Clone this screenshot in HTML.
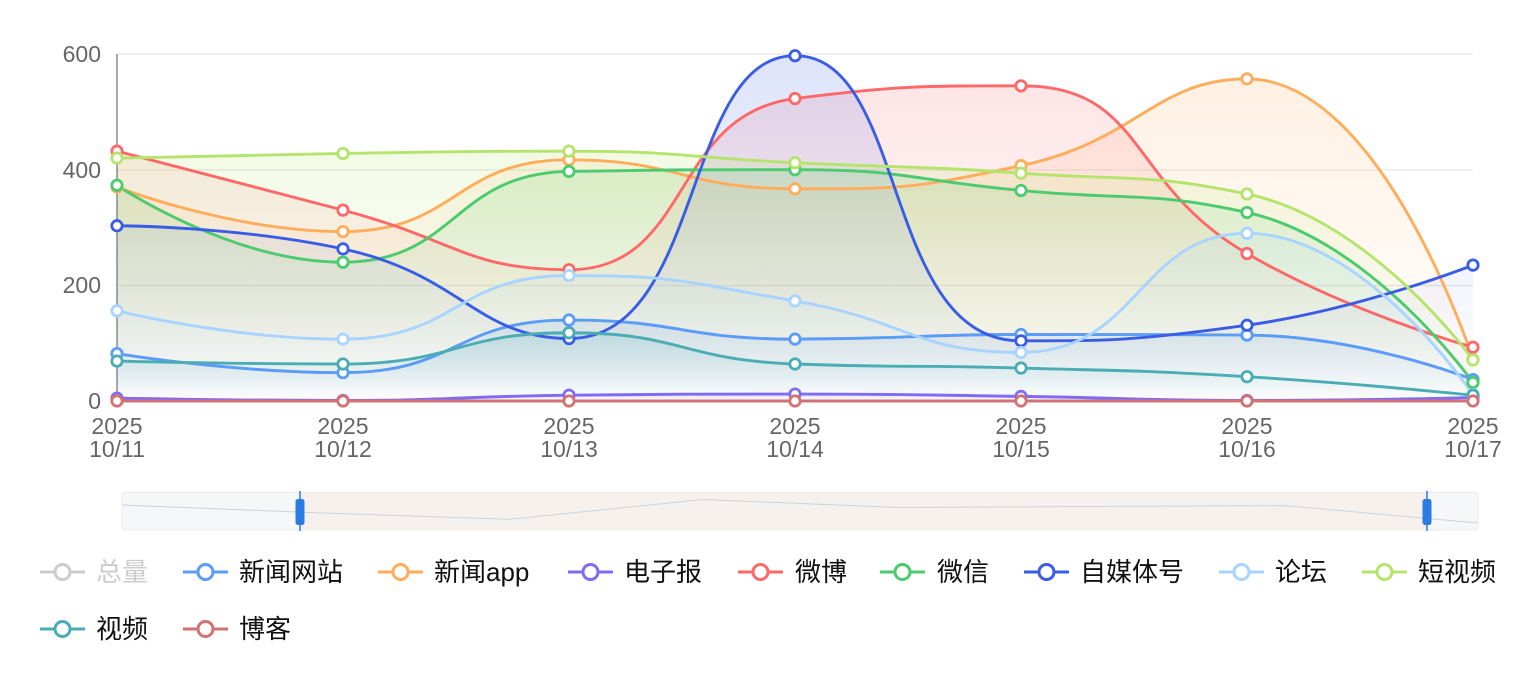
<!DOCTYPE html>
<html>
<head>
<meta charset="utf-8">
<style>
html,body{margin:0;padding:0;background:#fff;}
svg{display:block;}
.ax{font-family:"Liberation Sans","Noto Sans CJK SC",sans-serif;font-size:23px;fill:#666666;}
.lg{font-family:"Liberation Sans","Noto Sans CJK SC",sans-serif;font-size:26px;fill:#111;}
</style>
</head>
<body>
<svg id="c" width="1535" height="680" viewBox="0 0 1535 680" xmlns="http://www.w3.org/2000/svg">
  <defs id="defs"></defs>
  <!-- grid -->
  <g stroke="#e6e6e6" stroke-width="1.2">
    <line x1="117" y1="54" x2="1473" y2="54"/>
    <line x1="117" y1="170" x2="1473" y2="170"/>
    <line x1="117" y1="285.5" x2="1473" y2="285.5"/>
  </g>
  <g id="areas"></g>
  <line x1="117" y1="54" x2="117" y2="401" stroke="#6e7079" stroke-width="1.2"/>
  <g id="lines"></g>
  <g id="marks"></g>
  <!-- y labels -->
  <g class="ax" text-anchor="end">
    <text x="101" y="62">600</text>
    <text x="101" y="178">400</text>
    <text x="101" y="293">200</text>
    <text x="101" y="409">0</text>
  </g>
  <!-- x labels -->
  <g class="ax" text-anchor="middle">
    <text x="117" y="434">2025</text><text x="117" y="457">10/11</text>
    <text x="343" y="434">2025</text><text x="343" y="457">10/12</text>
    <text x="569" y="434">2025</text><text x="569" y="457">10/13</text>
    <text x="795" y="434">2025</text><text x="795" y="457">10/14</text>
    <text x="1021" y="434">2025</text><text x="1021" y="457">10/15</text>
    <text x="1247" y="434">2025</text><text x="1247" y="457">10/16</text>
    <text x="1473" y="434">2025</text><text x="1473" y="457">10/17</text>
  </g>
  <!-- data zoom -->
  <rect x="122" y="492.5" width="1356" height="37.5" rx="3" fill="#f6f7f9" stroke="#ece9e8" stroke-width="1"/>
  <rect x="300" y="492.5" width="1127" height="37.5" fill="#f5f0eb"/>
  <polyline points="122,505 316,512.8 510,519.3 703,499.5 898,507.5 1091,506.5 1284,505.5 1478,523" fill="none" stroke="#cfd2d8" stroke-width="1"/>
  <line x1="300" y1="491" x2="300" y2="531" stroke="#2b7be4" stroke-width="1.5"/>
  <rect x="295.5" y="499" width="9" height="26" rx="2.5" fill="#2b7be4"/>
  <line x1="1427" y1="491" x2="1427" y2="531" stroke="#2b7be4" stroke-width="1.5"/>
  <rect x="1422.5" y="499" width="9" height="26" rx="2.5" fill="#2b7be4"/>
  <!-- legend -->
  <g id="legicons"></g>
  <g class="lg">
    <text x="96" y="581" style="fill:#cccccc">总量</text>
    <text x="239" y="581">新闻网站</text>
    <text x="434" y="581">新闻app</text>
    <text x="624" y="581">电子报</text>
    <text x="795" y="581">微博</text>
    <text x="937" y="581">微信</text>
    <text x="1080" y="581">自媒体号</text>
    <text x="1275" y="581">论坛</text>
    <text x="1418" y="581">短视频</text>
    <text x="96" y="638">视频</text>
    <text x="239" y="638">博客</text>
  </g>
</svg>
<script>
(function(){
const NS="http://www.w3.org/2000/svg";
const X=[117,343,569,795,1021,1247,1473];
const Y0=401, K=347/600;
const yv=v=>Y0-v*K;
const series=[
 {c:"#5b9cf8",d:[82,49,140,107,115,114,37]},
 {c:"#ffad5b",d:[370,293,417,367,407,557,72]},
 {c:"#7e6cf7",d:[5,1,10,12,8,1,6]},
 {c:"#ff6868",d:[432,330,227,523,545,255,93]},
 {c:"#4ccb6e",d:[373,240,397,400,364,326,32]},
 {c:"#3a5de6",d:[303,263,108,597,104,131,235]},
 {c:"#a8d4ff",d:[156,107,217,173,84,290,11]},
 {c:"#b4e46b",d:[420,428,432,412,394,358,71]},
 {c:"#4aadb4",d:[69,64,118,64,57,42,10]},
 {c:"#d27272",d:[0,0,0,0,0,0,0]}
];
function smoothPath(pts,smooth){
  let d='',prevX,prevY,cpx0,cpy0,cpx1,cpy1,nextCpx0,nextCpy0;
  const n=pts.length;
  for(let i=0;i<n;i++){
    const x=pts[i][0],y=pts[i][1];
    if(i===0){d+='M'+x+','+y;cpx0=x;cpy0=y;}
    else{
      if(i===n-1){cpx1=x;cpy1=y;nextCpx0=x;nextCpy0=y;}
      else{
        const nx=pts[i+1][0],ny=pts[i+1][1];
        let vx=nx-prevX,vy=ny-prevY;
        const dx0=x-prevX,dx1=nx-x,dy0=y-prevY,dy1=ny-y;
        const lp=Math.sqrt(dx0*dx0+dy0*dy0),ln=Math.sqrt(dx1*dx1+dy1*dy1);
        const r=ln/(ln+lp);
        cpx1=x-vx*smooth*(1-r);cpy1=y-vy*smooth*(1-r);
        nextCpx0=x+vx*smooth*r;nextCpy0=y+vy*smooth*r;
        nextCpx0=Math.min(nextCpx0,Math.max(nx,x));nextCpy0=Math.min(nextCpy0,Math.max(ny,y));
        nextCpx0=Math.max(nextCpx0,Math.min(nx,x));nextCpy0=Math.max(nextCpy0,Math.min(ny,y));
        vx=nextCpx0-x;vy=nextCpy0-y;
        cpx1=x-vx*lp/ln;cpy1=y-vy*lp/ln;
        cpx1=Math.min(cpx1,Math.max(prevX,x));cpy1=Math.min(cpy1,Math.max(prevY,y));
        cpx1=Math.max(cpx1,Math.min(prevX,x));cpy1=Math.max(cpy1,Math.min(prevY,y));
        vx=x-cpx1;vy=y-cpy1;
        nextCpx0=x+vx*ln/lp;nextCpy0=y+vy*ln/lp;
      }
      d+='C'+cpx0.toFixed(2)+','+cpy0.toFixed(2)+' '+cpx1.toFixed(2)+','+cpy1.toFixed(2)+' '+x+','+y.toFixed(2);
      cpx0=nextCpx0;cpy0=nextCpy0;
    }
    prevX=x;prevY=y;
  }
  return d;
}
const defs=document.getElementById('defs');
const areas=document.getElementById('areas');
const lines=document.getElementById('lines');
const marks=document.getElementById('marks');
function el(t,a){const e=document.createElementNS(NS,t);for(const k in a)e.setAttribute(k,a[k]);return e;}
series.forEach((s,i)=>{
  const pts=s.d.map((v,j)=>[X[j],yv(v)]);
  const p=smoothPath(pts,0.5);
  const maxv=Math.max.apply(null,s.d);
  if(maxv>0){
    const g=el('linearGradient',{id:'g'+i,x1:0,y1:0,x2:0,y2:1});
    g.appendChild(el('stop',{offset:0,'stop-color':s.c,'stop-opacity':0.17}));
    g.appendChild(el('stop',{offset:1,'stop-color':s.c,'stop-opacity':0}));
    defs.appendChild(g);
    areas.appendChild(el('path',{d:p+'L'+X[6]+','+Y0+'L'+X[0]+','+Y0+'Z',fill:'url(#g'+i+')',stroke:'none'}));
  }
  lines.appendChild(el('path',{d:p,fill:'none',stroke:s.c,'stroke-width':2.9,'stroke-linejoin':'round'}));
  pts.forEach(q=>{
    marks.appendChild(el('circle',{cx:q[0],cy:q[1],r:5.2,fill:'#fff',stroke:s.c,'stroke-width':2.8}));
  });
});
const li=document.getElementById('legicons');
const leg=[[40,572,'#cccccc'],[183,572,series[0].c],[378,572,series[1].c],[568,572,series[2].c],[738,572,series[3].c],[880,572,series[4].c],[1024,572,series[5].c],[1219,572,series[6].c],[1362,572,series[7].c],[40,629,series[8].c],[183,629,series[9].c]];
leg.forEach(l=>{
  li.appendChild(el('line',{x1:l[0],y1:l[1],x2:l[0]+45,y2:l[1],stroke:l[2],'stroke-width':3}));
  li.appendChild(el('circle',{cx:l[0]+22.5,cy:l[1],r:7.5,fill:'#fff',stroke:l[2],'stroke-width':3}));
});
})();
</script>
</body>
</html>
